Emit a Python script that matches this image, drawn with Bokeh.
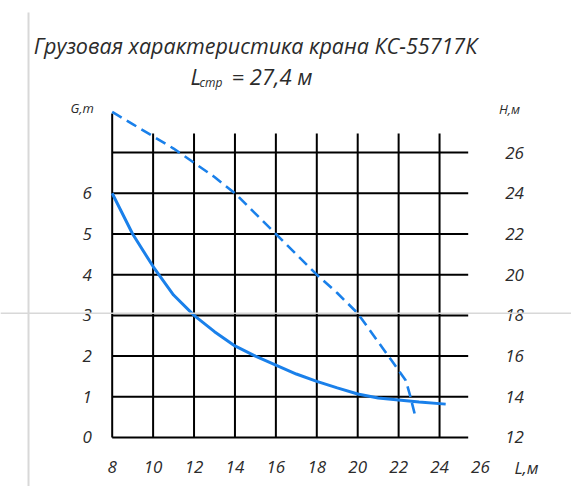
from bokeh.plotting import figure
from bokeh.models import Range1d, Span, Label
from bokeh.core.properties import value
from bokeh.embed import file_html
from bokeh.resources import INLINE

# ---- data ----
L_ticks = [8, 10, 12, 14, 16, 18, 20, 22, 24]
L_labels_x = [8, 10, 12, 14, 16, 18, 20, 22, 24, 26]
L_labels = ["8", "10", "12", "14", "16", "18", "20", "22", "24", "26"]
G_ticks = [0, 1, 2, 3, 4, 5, 6, 7]
G_labels_y = [0, 1, 2, 3, 4, 5, 6]
G_labels = ["0", "1", "2", "3", "4", "5", "6"]
H_ticks = [12, 14, 16, 18, 20, 22, 24, 26]
H_labels = ["12", "14", "16", "18", "20", "22", "24", "26"]

# load capacity G (t) vs reach L (m)
L_load = [8, 9, 10, 11, 12, 13, 14, 15, 16, 17, 18, 19, 20, 21, 22, 23, 24.3]
G_load = [6.0, 5.0, 4.2, 3.5, 3.0, 2.6, 2.25, 2.0, 1.78, 1.56, 1.38, 1.22, 1.07, 0.97, 0.92, 0.87, 0.82]

# hook height H (m) vs reach L (m)
L_hook = [8, 9, 10, 11, 12, 13, 14, 15, 16, 17, 18, 19, 20, 21, 22, 22.35, 22.55, 22.8]
H_hook = [28.0, 27.4, 26.8, 26.2, 25.5, 24.8, 24.0, 23.0, 22.0, 21.0, 20.0, 19.1, 18.1, 16.7, 15.3, 14.8, 14.1, 13.1]

FONT = value("Open Sans")
TXT = "#2b2b2b"
BLUE = "#1a80ea"
W, H = 571, 486

xr = Range1d(2.541, 30.449)
yr = Range1d(-1.204, 10.737)
p = figure(width=W, height=H, x_range=xr, y_range=yr,
           output_backend="svg", toolbar_location=None,
           x_axis_location=None, y_axis_location=None,
           min_border=0, outline_line_color=None)
p.grid.visible = False
p.extra_y_ranges = {"H": Range1d(2 * yr.start + 12, 2 * yr.end + 12)}

# faint construction lines of the original sheet
p.add_layout(Span(location=3.05, dimension="width", line_color="#d8d8d8", line_width=1.5))
p.segment(x0=[3.91], y0=[10.44], x1=[3.91], y1=[-1.3], line_color="#d8d8d8", line_width=2)

# grid
tops = [7.96 if L == 8 else 7.47 for L in L_ticks]
p.segment(x0=L_ticks, y0=[0] * len(L_ticks), x1=L_ticks, y1=tops,
          line_color="black", line_width=2)
p.segment(x0=[8] * len(G_ticks), y0=G_ticks, x1=[25.4] * len(G_ticks), y1=G_ticks,
          line_color="black", line_width=2)

# curves
p.line(L_load, G_load, line_color=BLUE, line_width=3)
p.line(L_hook, H_hook, line_color=BLUE, line_width=2.6, line_dash="11 6",
       y_range_name="H")

# tick labels
p.text(x=L_labels_x, y=[0] * len(L_labels_x), text=L_labels, y_offset=30,
       text_align="center", text_baseline="middle", text_font=FONT,
       text_font_style="italic", text_font_size="17px", text_color=TXT)
p.text(x=[8] * len(G_labels_y), y=G_labels_y, text=G_labels, x_offset=-25,
       text_align="center", text_baseline="middle", text_font=FONT,
       text_font_style="italic", text_font_size="17px", text_color=TXT)
p.text(x=[24] * len(H_ticks), y=H_ticks, text=H_labels, x_offset=75,
       text_align="center", text_baseline="middle", text_font=FONT,
       text_font_style="italic", text_font_size="17px", text_color=TXT,
       y_range_name="H")

# axis names
p.text(x=[8], y=[7.96], text=["G,т"], x_offset=-30, y_offset=-6,
       text_align="center", text_baseline="middle", text_font=FONT,
       text_font_style="italic", text_font_size="13px", text_color=TXT)
p.text(x=[24], y=[7.47], text=["H,м"], x_offset=70, y_offset=-24,
       text_align="center", text_baseline="middle", text_font=FONT,
       text_font_style="italic", text_font_size="13px", text_color=TXT)
p.text(x=[26], y=[0], text=["L,м"], x_offset=46, y_offset=30,
       text_align="center", text_baseline="middle", text_font=FONT,
       text_font_style="italic", text_font_size="17px", text_color=TXT)

# title
p.add_layout(Label(x=255, y=H - 45, x_units="screen", y_units="screen",
                   text="Грузовая характеристика крана КС-55717К",
                   text_align="center", text_baseline="middle", text_font="Open Sans",
                   text_font_style="italic", text_font_size="21.5px", text_color=TXT))
p.add_layout(Label(x=190, y=H - 75, x_units="screen", y_units="screen",
                   text="L", text_align="left", text_baseline="alphabetic",
                   text_font="Open Sans", text_font_style="italic",
                   text_font_size="22px", text_color=TXT))
p.add_layout(Label(x=199, y=H - 82, x_units="screen", y_units="screen",
                   text="стр", text_align="left", text_baseline="alphabetic",
                   text_font="Open Sans", text_font_style="italic",
                   text_font_size="12px", text_color=TXT))
p.add_layout(Label(x=231, y=H - 75, x_units="screen", y_units="screen",
                   text="= 27,4  м", text_align="left", text_baseline="alphabetic",
                   text_font="Open Sans", text_font_style="italic",
                   text_font_size="22px", text_color=TXT))

open("out.html", "w").write(file_html(p, INLINE))
